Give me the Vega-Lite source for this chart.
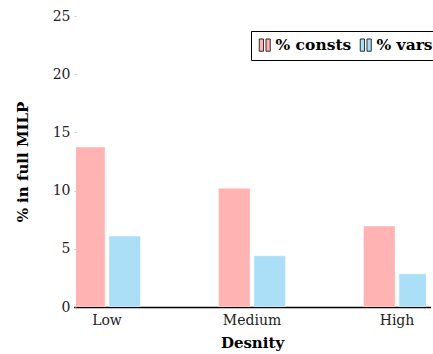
{
  "$schema": "https://vega.github.io/schema/vega-lite/v6.json",
  "autosize": "none",
  "width": 350,
  "height": 291,
  "padding": {"left": 76, "top": 16, "right": 7, "bottom": 47},
  "background": "white",
  "config": {
    "view": {"stroke": null},
    "font": "DejaVu Serif"
  },
  "data": {
    "values": [
      {"Density": "Low", "Metric": "% consts", "Value": 13.75},
      {"Density": "Low", "Metric": "% vars", "Value": 6.1},
      {"Density": "Medium", "Metric": "% consts", "Value": 10.2},
      {"Density": "Medium", "Metric": "% vars", "Value": 4.4},
      {"Density": "High", "Metric": "% consts", "Value": 6.95},
      {"Density": "High", "Metric": "% vars", "Value": 2.85}
    ]
  },
  "mark": {"type": "bar", "clip": true, "stroke": "white", "strokeOpacity": 0.5, "strokeWidth": 0.8},
  "encoding": {
    "x": {
      "field": "Density",
      "type": "nominal",
      "sort": ["Low", "Medium", "High"],
      "scale": {"range": [-2.5, 354.5], "paddingInner": 0.538, "paddingOuter": 0},
      "axis": {
        "title": "Desnity",
        "titleFont": "DejaVu Serif",
        "titleFontSize": 15,
        "titleFontWeight": "bold",
        "titleColor": "black",
        "titlePadding": 8,
        "labelAngle": 0,
        "labelFont": "DejaVu Serif",
        "labelFontSize": 14,
        "labelColor": "#222222",
        "labelPadding": 6,
        "ticks": false,
        "domain": true,
        "domainColor": "black",
        "domainWidth": 1.3
      }
    },
    "xOffset": {
      "field": "Metric",
      "type": "nominal",
      "scale": {"paddingInner": 0.11}
    },
    "y": {
      "field": "Value",
      "type": "quantitative",
      "scale": {"domain": [0, 25], "nice": false},
      "axis": {
        "values": [0, 5, 10, 15, 20, 25],
        "title": "% in full MILP",
        "titleFont": "DejaVu Serif",
        "titleFontSize": 15,
        "titleFontWeight": "bold",
        "titleColor": "black",
        "titlePadding": 22,
        "labelFont": "DejaVu Serif",
        "labelFontSize": 14,
        "labelColor": "#222222",
        "labelPadding": 4,
        "domain": false,
        "grid": false,
        "ticks": true,
        "tickSize": 2,
        "tickColor": "#aaaaaa",
        "tickWidth": 0.6
      }
    },
    "color": {
      "field": "Metric",
      "type": "nominal",
      "scale": {"domain": ["% consts", "% vars"], "range": ["#ffb3b3", "#abdff8"]},
      "legend": {
        "title": null,
        "orient": "none",
        "legendX": 175,
        "legendY": 15,
        "direction": "horizontal",
        "strokeColor": "black",
        "fillColor": "white",
        "padding": 6,
        "symbolType": "M -0.9 -1 H -0.2 V 1 H -0.9 Z M 0.2 -1 H 0.9 V 1 H 0.2 Z",
        "symbolSize": 150,
        "symbolStrokeColor": "black",
        "symbolStrokeWidth": 0.8,
        "symbolOpacity": 1,
        "labelFont": "DejaVu Serif",
        "labelFontSize": 15.5,
        "labelFontWeight": "bold",
        "labelColor": "black",
        "labelOffset": 3,
        "columnPadding": 6
      }
    }
  }
}
